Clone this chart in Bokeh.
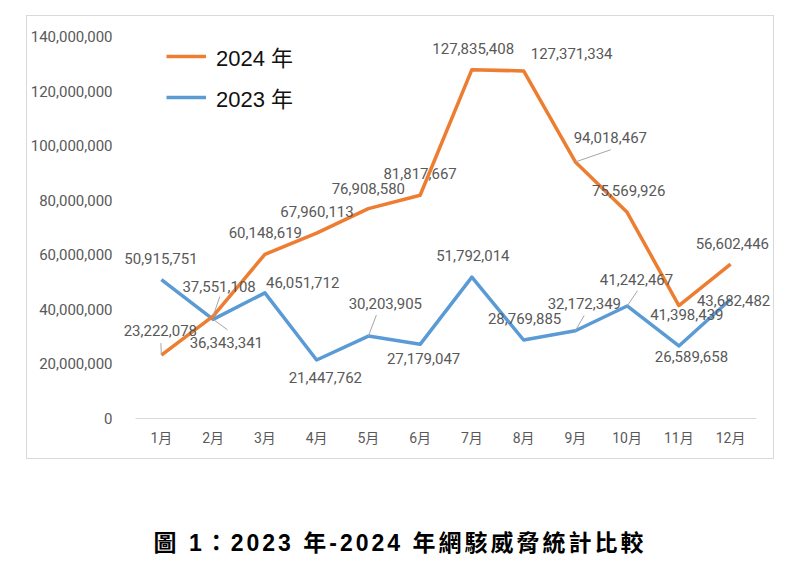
from bokeh.plotting import figure
from bokeh.models import (Range1d, FixedTicker, NumeralTickFormatter, Legend, LegendItem,
                          ColumnDataSource, LabelSet, Div)
from bokeh.layouts import column
from bokeh.core.properties import value
from bokeh.embed import file_html
from bokeh.resources import INLINE

# ---- data ----
months = ["1月", "2月", "3月", "4月", "5月", "6月", "7月", "8月", "9月", "10月", "11月", "12月"]
y2024 = [23222078, 37551108, 60148619, 67960113, 76908580, 81817667,
         127835408, 127371334, 94018467, 75569926, 41398439, 56602446]
y2023 = [50915751, 36343341, 46051712, 21447762, 30203905, 27179047,
         51792014, 28769885, 32172349, 41242467, 26589658, 43682482]
y_ticks = [0, 20000000, 40000000, 60000000, 80000000, 100000000, 120000000, 140000000]
caption = "圖 1：2023 年-2024 年網駭威脅統計比較"

# ---- label placement (screen px offsets from each point, +dy = downwards) ----
off2024 = [(-1, -25), (6, -30), (0.5, -22), (0.4, -21.6), (0, -20.4), (0, -22),
           (1.3, -21), (48, -17.8), (35, -24), (1.6, -21.5), (8, 8.7), (1.7, -21)]
off2023 = [(-0.4, -21.4), (13.2, 22.9), (37.8, -10.6), (8.7, 17.2), (17, -33), (3.5, 14),
           (1, -21.4), (1, -21.2), (9, -27), (9.4, -26.8), (12.6, 10.6), (3, 1.5)]
# leader lines: (series, month index 0-based, end dx px, end dy px)
leaders = [("2024", 0, -0.5, -12), ("2024", 1, 6.7, -19.5), ("2023", 1, 14.4, 10.5),
           ("2023", 4, 8, -21), ("2024", 8, 35.4, -12.2), ("2023", 8, 8.8, -15.2),
           ("2023", 9, 10.4, -15.2)]

# chart box: 748 x 444, placed at (26, 15)
W, H = 748, 444
STEP = 51.75           # px per month
PAD_L, PAD_R = 15, 16  # extra room in the frame so edge labels are not clipped
FW = int(round(12 * STEP + PAD_L + PAD_R))
BL, BT = 93, 20
FH = 382
BR = W - BL - FW
BB = H - BT - FH
YMAX = 140000000

p = figure(width=W, height=H, output_backend="svg", toolbar_location=None,
           x_range=Range1d(0.5 - PAD_L / STEP, 12.5 + PAD_R / STEP), y_range=Range1d(0, YMAX),
           min_border_left=BL, min_border_right=BR, min_border_top=BT, min_border_bottom=BB,
           margin=(15, 0, 0, 26), styles={"border": "1px solid #d9d9d9"})
p.background_fill_color = "white"
p.border_fill_color = "white"
p.outline_line_color = None
p.grid.grid_line_color = None

tick_font = "Roboto, 'Noto Sans CJK TC'"
xs = list(range(1, 13))

p.xaxis.ticker = FixedTicker(ticks=xs)
p.xaxis.bounds = (0.5, 12.5)
p.xaxis.major_label_overrides = {i + 1: m for i, m in enumerate(months)}
p.xaxis.axis_line_color = "#d9d9d9"
p.xaxis.major_tick_line_color = None
p.xaxis.minor_tick_line_color = None
p.xaxis.major_label_text_font = tick_font
p.xaxis.major_label_text_font_size = "14px"
p.xaxis.major_label_text_color = "#595959"
p.xaxis.major_label_standoff = 5

p.yaxis.ticker = FixedTicker(ticks=y_ticks)
p.yaxis.formatter = NumeralTickFormatter(format="0,0")
p.yaxis.axis_line_color = None
p.yaxis.major_tick_line_color = None
p.yaxis.minor_tick_line_color = None
p.yaxis.major_label_text_font = tick_font
p.yaxis.major_label_text_font_size = "15px"
p.yaxis.major_label_text_color = "#595959"
p.yaxis.major_label_standoff = 2

r23 = p.line(xs, y2023, line_color="#5B9BD5", line_width=3.5, line_join="round")
r24 = p.line(xs, y2024, line_color="#ED7D31", line_width=3.5, line_join="round")

# leader lines
px_x = 1.0 / STEP
px_y = YMAX / FH
lx0, ly0, lx1, ly1 = [], [], [], []
for s, i, dx, dy in leaders:
    v = y2024[i] if s == "2024" else y2023[i]
    lx0.append(xs[i]); ly0.append(v)
    lx1.append(xs[i] + dx * px_x); ly1.append(v - dy * px_y)
p.segment(lx0, ly0, lx1, ly1, line_color="#a6a6a6", line_width=1)

for vals, offs in ((y2023, off2023), (y2024, off2024)):
    src = ColumnDataSource(dict(x=xs, y=vals, t=[f"{v:,}" for v in vals],
                                dx=[o[0] for o in offs], dy=[-o[1] for o in offs]))
    p.add_layout(LabelSet(x="x", y="y", text="t", x_offset="dx", y_offset="dy", source=src,
                          text_font=value("Roboto"), text_font_size="15px", text_color="#595959",
                          text_align="center", text_baseline="middle"))

legend = Legend(items=[LegendItem(label="2024 年", renderers=[r24]),
                       LegendItem(label="2023 年", renderers=[r23])],
                location=(46, 305), orientation="vertical",
                glyph_width=40, glyph_height=26, label_height=26, spacing=9,
                label_standoff=10, padding=0, margin=0,
                label_text_font="'Liberation Sans', 'Noto Sans CJK TC'",
                label_text_font_size="22px", label_text_color="#111111",
                border_line_alpha=0, background_fill_alpha=0)
p.add_layout(legend, "center")

cap = Div(text=caption, width=800, height=24, margin=(72, 0, 0, 0),
          styles={"font-family": "'Liberation Sans', 'Noto Sans CJK TC', sans-serif",
                  "font-size": "23px", "font-weight": "bold", "color": "#000000",
                  "text-align": "center", "line-height": "24px", "letter-spacing": "3px"})

layout = column(p, cap, spacing=0)
open("out.html", "w").write(file_html(layout, INLINE))
